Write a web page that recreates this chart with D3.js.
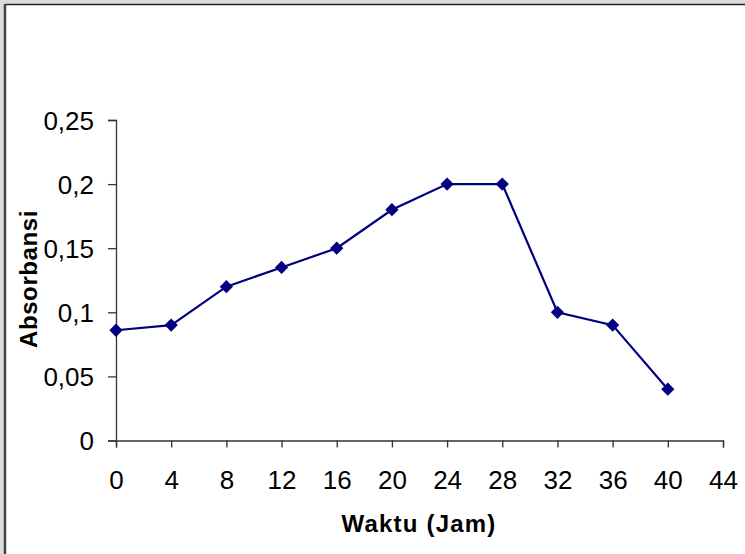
<!DOCTYPE html>
<html>
<head>
<meta charset="utf-8">
<script src="https://cdn.jsdelivr.net/npm/d3@7/dist/d3.min.js"></script>
<style>
  html, body { margin: 0; padding: 0; background: #dcdcdc; }
  svg { display: block; }
  text { font-family: "Liberation Sans", Arial, sans-serif; fill: #000; }
</style>
</head>
<body>
<svg id="chart" width="745" height="554"></svg>
<script>
const hours = [0, 4, 8, 12, 16, 20, 24, 28, 32, 36, 40];
const absorbance = [0.086, 0.09, 0.12, 0.135, 0.15, 0.18, 0.2, 0.2, 0.1, 0.09, 0.04];
const xTicks = [0, 4, 8, 12, 16, 20, 24, 28, 32, 36, 40, 44];
const yTicks = [0, 0.05, 0.1, 0.15, 0.2, 0.25];
const xTitle = "Waktu (Jam)";
const yTitle = "Absorbansi";

const svg = d3.select("#chart");

// chart area frame
svg.append("rect").attr("x", 5).attr("y", 5).attr("width", 745).attr("height", 554)
  .attr("fill", "#fff");
svg.append("line").attr("x1", 5).attr("x2", 745).attr("y1", 4.5).attr("y2", 4.5)
  .attr("stroke", "#222").attr("stroke-width", 1.5);
svg.append("line").attr("x1", 5).attr("x2", 5).attr("y1", 4).attr("y2", 554)
  .attr("stroke", "#444").attr("stroke-width", 2.5);

const x = d3.scaleLinear().domain([0, 44]).range([116, 723]);
const y = d3.scaleLinear().domain([0, 0.25]).range([440.5, 120]);

const fmt = d => String(d).replace(".", ",");

// y axis
const yAxis = svg.append("g").attr("transform", "translate(116,0)")
  .call(d3.axisLeft(y).tickValues(yTicks).tickSize(8).tickPadding(14).tickFormat(fmt));
// x axis
const xAxis = svg.append("g").attr("transform", "translate(0,440.5)")
  .call(d3.axisBottom(x).tickValues(xTicks).tickSize(7).tickPadding(23).tickFormat(d => String(d)));

[yAxis, xAxis].forEach(g => {
  g.select(".domain").attr("stroke", "#333").attr("stroke-width", 1.3);
  g.selectAll(".tick line").attr("stroke", "#333").attr("stroke-width", 1.3);
  g.selectAll(".tick text").style("font-family", '"Liberation Sans", Arial, sans-serif')
    .style("font-size", "26px").attr("fill", "#000");
});
yAxis.selectAll(".tick text").attr("dy", "0.36em");
xAxis.selectAll(".tick text").attr("dy", "0.72em");

// series line
const pts = hours.map((h, i) => [h, absorbance[i]]);
svg.append("path").datum(pts)
  .attr("fill", "none").attr("stroke", "#000080").attr("stroke-width", 2.2)
  .attr("d", d3.line().x(d => x(d[0])).y(d => y(d[1])));

// markers
svg.selectAll(".mk").data(pts).enter().append("path")
  .attr("class", "mk")
  .attr("d", d3.symbol().type(d3.symbolSquare).size(88))
  .attr("transform", d => `translate(${x(d[0])},${y(d[1])}) rotate(45)`)
  .attr("fill", "#000080");

// axis titles
svg.append("text").attr("x", 419).attr("y", 531.5)
  .attr("text-anchor", "middle")
  .style("font-size", "24px").style("font-weight", "bold").style("letter-spacing", "1.2px")
  .text(xTitle);
svg.append("text")
  .attr("transform", "translate(37,279) rotate(-90)")
  .attr("text-anchor", "middle")
  .style("font-size", "24px").style("font-weight", "bold").style("letter-spacing", "0.6px")
  .text(yTitle);
</script>
</body>
</html>
